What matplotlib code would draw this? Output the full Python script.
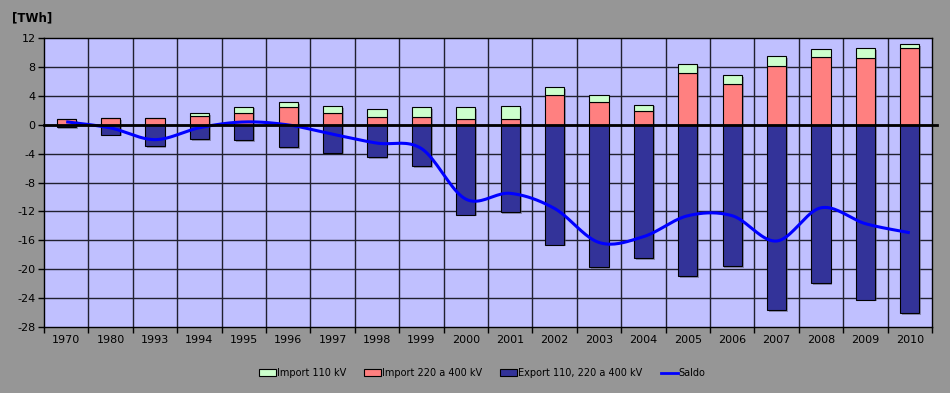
import numpy as np
import matplotlib.pyplot as plt
from matplotlib.patches import Patch
from matplotlib.lines import Line2D

years = ['1970', '1980', '1993', '1994', '1995', '1996', '1997', '1998', '1999', '2000',
         '2001', '2002', '2003', '2004', '2005', '2006', '2007', '2008', '2009', '2010']
imp_220_400 = [0.75, 0.93, 0.93, 1.25, 1.58, 2.40, 1.58, 1.02, 1.02, 0.75,
               0.79, 4.07, 3.10, 1.85, 7.11, 5.63, 8.12, 9.33, 9.27, 10.57]
imp_110 = [0.00, 0.00, 0.00, 0.33, 0.92, 0.70, 0.97, 1.11, 1.38, 1.65,
           1.84, 1.10, 0.97, 0.92, 1.25, 1.29, 1.35, 1.10, 1.30, 0.56]
export = [-0.36, -1.38, -3.00, -2.00, -2.16, -3.13, -3.87, -4.50, -5.70, -12.45,
          -12.10, -16.60, -19.70, -18.50, -21.00, -19.60, -25.70, -21.90, -24.20, -26.10]
saldo = [0.40, -0.45, -2.07, -0.42, 0.38, -0.03, -1.32, -2.55, -3.30, -10.3,
         -9.50, -11.60, -16.30, -15.50, -12.60, -12.60, -16.10, -11.50, -13.70, -14.95]
yticks = list(range(-28, 13, 4))

BG = '#969696'
fig = plt.figure(figsize=(9.5, 3.93), dpi=100, facecolor=BG)
ax = fig.add_axes([44/950, 1-327/393, (932-44)/950, (327-38)/393])
ax.set_facecolor('#C0C0FF')

n = len(years)
x = np.arange(n)
w = 0.43

# shadows
sh_dx = 0.04
sh_dy = -0.25
ax.bar(x + sh_dx, np.array(imp_220_400) + np.array(imp_110), bottom=sh_dy, width=w,
       color='#555566', alpha=0.5, zorder=2, linewidth=0)
ax.bar(x + sh_dx, export, bottom=sh_dy, width=w, color='#555566', alpha=0.5, zorder=2, linewidth=0)

ax.bar(x, imp_220_400, width=w, color='#FF8080', edgecolor='black', linewidth=0.8, zorder=3)
ax.bar(x, imp_110, bottom=imp_220_400, width=w, color='#CCFFCC', edgecolor='black', linewidth=0.8, zorder=3)
ax.bar(x, export, width=w, color='#333399', edgecolor='black', linewidth=0.8, zorder=3)

# smoothed saldo line (Catmull-Rom)
def catmull(xs, ys, steps=20):
    xs = np.asarray(xs, float); ys = np.asarray(ys, float)
    P = np.column_stack([xs, ys])
    P = np.vstack([P[0], P, P[-1]])
    out = []
    for i in range(1, len(P) - 2):
        p0, p1, p2, p3 = P[i-1], P[i], P[i+1], P[i+2]
        t = np.linspace(0, 1, steps, endpoint=False)[:, None]
        c = 0.5 * ((2*p1) + (-p0 + p2)*t + (2*p0 - 5*p1 + 4*p2 - p3)*t**2 + (-p0 + 3*p1 - 3*p2 + p3)*t**3)
        out.append(c)
    out.append(P[-2][None, :])
    out = np.vstack(out)
    return out[:, 0], out[:, 1]

sx, sy = catmull(x, saldo)
ax.plot(sx, sy, color='#0000FF', linewidth=2.2, zorder=5, solid_capstyle='butt')

ax.set_xlim(-0.5, n - 0.5)
ax.set_ylim(-28, 12)
ax.set_yticks(yticks)
ax.set_yticklabels([str(t) for t in yticks], fontsize=8)
ax.set_xticks(x)
ax.set_xticklabels(years, fontsize=8)
ax.tick_params(axis='x', length=0, pad=6)
ax.set_xticks(np.arange(-0.5, n, 1.0), minor=True)
ax.tick_params(axis='x', which='minor', length=4, width=1, direction='out')
ax.tick_params(axis='y', length=4, width=1, direction='out', pad=2)

for yv in yticks[1:-1]:
    ax.axhline(yv, color='#202030', linewidth=1, zorder=1)
for xv in np.arange(0.5, n - 0.5, 1.0):
    ax.axvline(xv, color='#202030', linewidth=1, zorder=1)
ax.axhline(0, xmin=0, xmax=1.006, color='black', linewidth=2, zorder=6, clip_on=False)

for s in ax.spines.values():
    s.set_color('black')
    s.set_linewidth(1)

fig.text(12/950, 1-18/393, '[TWh]', fontsize=8.5, fontweight='bold', va='center', ha='left')

handles = [Patch(facecolor='#CCFFCC', edgecolor='black', linewidth=0.8),
           Patch(facecolor='#FF8080', edgecolor='black', linewidth=0.8),
           Patch(facecolor='#333399', edgecolor='black', linewidth=0.8),
           Line2D([], [], color='#0000FF', linewidth=2)]
labels = ['Import 110 kV', 'Import 220 a 400 kV', 'Export 110, 220 a 400 kV', 'Saldo']
fig.legend(handles, labels, loc='center', bbox_to_anchor=(482/950, 1-373/393), ncol=4,
           frameon=False, fontsize=7, handlelength=1.75, handleheight=0.6,
           handletextpad=0.05, columnspacing=1.9)

fig.savefig('out.png', dpi=100, facecolor=BG)
